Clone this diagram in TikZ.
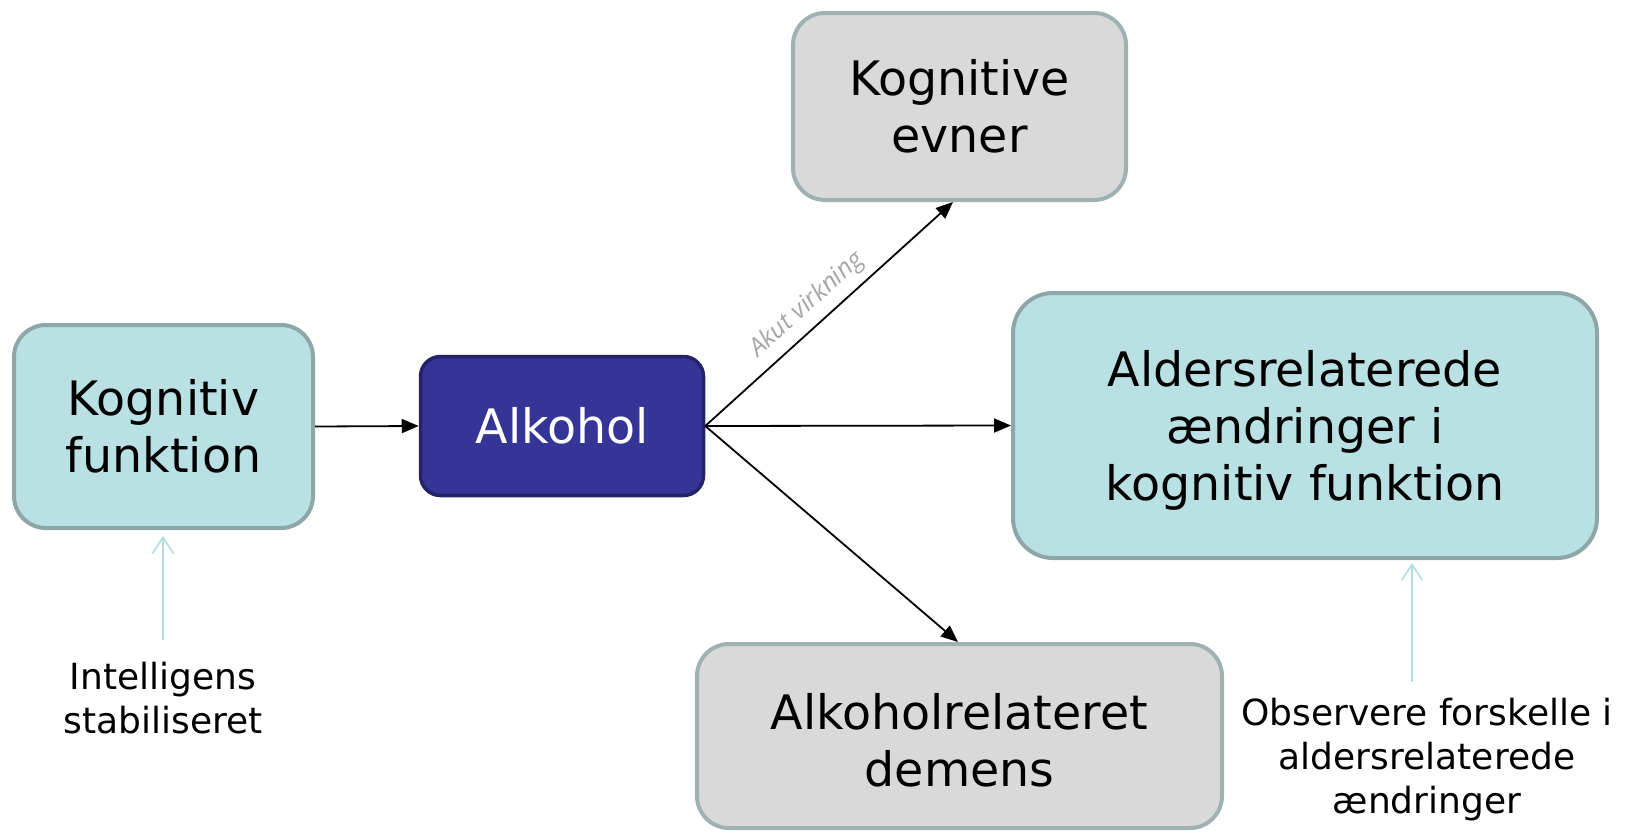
\documentclass[tikz,border=0pt]{standalone}
\usepackage{fontspec}
\setmainfont{DejaVu Sans}
\newfontfamily\akutfont{Open Sans}
\usetikzlibrary{arrows.meta}
\definecolor{tealfill}{HTML}{B9E0E3}
\definecolor{tealedge}{HTML}{8DA7A8}
\definecolor{greyfill}{HTML}{D9D9D9}
\definecolor{greyedge}{HTML}{A0B1B1}
\definecolor{alkfill}{HTML}{353597}
\definecolor{alkedge}{HTML}{23236A}
\definecolor{lightarrowcol}{HTML}{B3DCE0}
\definecolor{labelgrey}{HTML}{A6A6A6}
\tikzset{
  box/.style={rectangle, rounded corners=32pt, line width=4pt, align=center, inner sep=0pt,
    font=\fontsize{47.5}{57}\selectfont},
  tealbox/.style={box, fill=tealfill, draw=tealedge},
  greybox/.style={box, fill=greyfill, draw=greyedge},
  alkbox/.style={box, rounded corners=20pt, line width=3.5pt, fill=alkfill, draw=alkedge, text=white},
  note/.style={align=center, inner sep=0pt, font=\fontsize{36}{44}\selectfont},
  mainarrow/.style={line width=1.8pt, -{Triangle[length=17pt,width=14pt]}},
  softarrow/.style={line width=1.6pt, draw=lightarrowcol, -{Straight Barb[length=16pt,width=21pt,line width=1.6pt]}},
  akut/.style={font=\akutfont\itshape\fontsize{25}{30}\selectfont, text=labelgrey, sloped, above=8pt, inner sep=0pt}
}
\begin{document}
\begin{tikzpicture}[x=1pt,y=-1pt]
\useasboundingbox (0,0) rectangle (1626,833);
\node[tealbox, minimum width=299pt, minimum height=203pt] (kf) at (163.5,426.5) {Kognitiv\\funktion};
\node[alkbox, minimum width=283pt, minimum height=139pt] (alk) at (562,426) {Alkohol};
\node[greybox, minimum width=333pt, minimum height=187pt] (ke) at (959.5,106.5) {Kognitive\\evner};
\node[tealbox, rounded corners=40pt, minimum width=584pt, minimum height=265pt] (ald) at (1305,425.5) {\rule{0pt}{46pt}Aldersrelaterede\\ændringer i\\kognitiv funktion};
\node[greybox, minimum width=525pt, minimum height=184pt] (dem) at (959.5,736) {\rule{0pt}{44pt}Alkoholrelateret\\demens};
\node[note] (int) at (163,698) {Intelligens\\stabiliseret};
\node[note] (obs) at (1427,760) {Observere forskelle i\\aldersrelaterede\\ændringer};
\coordinate (obstop) at ([xshift=-15pt,yshift=16pt]obs.north);
\coordinate (inttop) at ([yshift=22pt]int.north);
\draw[mainarrow] (kf.east) -- (alk.west);
\draw[mainarrow] (alk.east) -- ([xshift=-6.5pt]ke.south) node[akut, pos=0.47] {Akut virkning};
\draw[mainarrow] (alk.east) -- (ald.west);
\draw[mainarrow] (alk.east) -- ([xshift=-1.5pt]dem.north);
\draw[softarrow, shorten >=6pt] (inttop) -- (inttop |- kf.south);
\draw[softarrow, shorten >=3pt] (obstop) -- (obstop |- ald.south);
\end{tikzpicture}
\end{document}
